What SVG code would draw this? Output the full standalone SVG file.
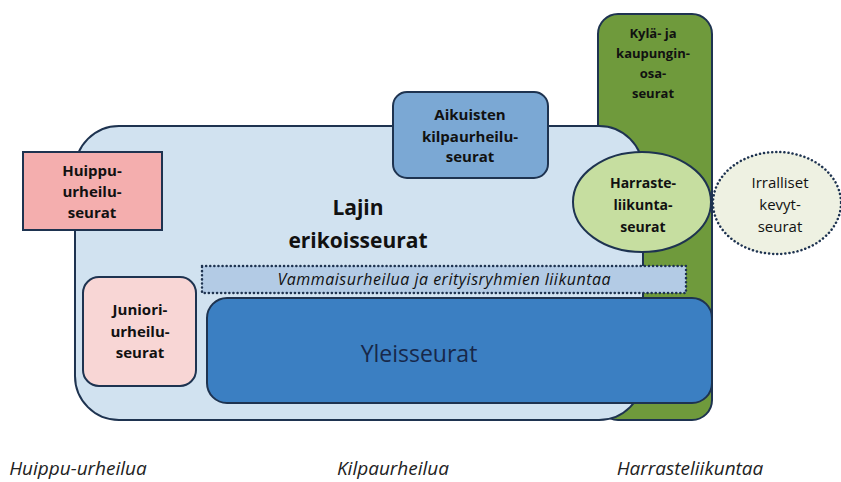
<svg xmlns="http://www.w3.org/2000/svg" width="841" height="482" viewBox="0 0 841 482">
<style>
.st{stroke:#1e3350;stroke-width:2}
.t{font-family:"Open Sans","Liberation Sans",sans-serif;font-size:15px;font-weight:bold;fill:#111;text-anchor:middle}
.n{font-family:"Open Sans","Liberation Sans",sans-serif;font-size:15px;fill:#111;text-anchor:middle}
.b{font-family:"Open Sans","Liberation Sans",sans-serif;font-size:19px;font-style:italic;fill:#222;text-anchor:middle}
.dot{stroke:#1e3350;stroke-width:2.5;stroke-dasharray:0.1 4;stroke-linecap:round}
</style>
<rect width="841" height="482" fill="#fff"/>
<g id="kyla">
<rect x="598" y="14" width="114" height="406" rx="20" fill="#6f9a3c" class="st"/>
<text class="t" x="653" y="38" style="font-size:13px">Kylä- ja</text>
<text class="t" x="653" y="58" style="font-size:13px">kaupungin-</text>
<text class="t" x="653" y="78" style="font-size:13px">osa-</text>
<text class="t" x="653" y="98" style="font-size:13px">seurat</text>
</g>
<g id="lajin">
<rect x="75" y="126" width="568" height="294" rx="44" fill="#d1e2f0" class="st"/>
<text class="t" x="358" y="215" style="font-size:21px">Lajin</text>
<text class="t" x="358" y="248" style="font-size:21px">erikoisseurat</text>
</g>
<g id="aikuisten">
<rect x="393" y="92" width="155" height="86" rx="14" fill="#7ba8d4" class="st"/>
<text class="t" x="470" y="120">Aikuisten</text>
<text class="t" x="470" y="142">kilpaurheilu-</text>
<text class="t" x="470" y="162">seurat</text>
</g>
<g id="huippu">
<rect x="23" y="152" width="139" height="78" fill="#f4aeae" class="st"/>
<text class="t" x="92" y="176">Huippu-</text>
<text class="t" x="92" y="197">urheilu-</text>
<text class="t" x="92" y="218">seurat</text>
</g>
<g id="harraste">
<ellipse cx="642" cy="202" rx="69" ry="50" fill="#c6dea0" class="st"/>
<text class="t" x="643" y="188" style="font-size:14px">Harraste-</text>
<text class="t" x="643" y="210" style="font-size:14px">liikunta-</text>
<text class="t" x="643" y="232" style="font-size:14px">seurat</text>
</g>
<g id="irralliset">
<ellipse cx="777" cy="203" rx="64" ry="51" fill="#eef1e2" class="dot"/>
<text class="n" x="780" y="188">Irralliset</text>
<text class="n" x="780" y="210">kevyt-</text>
<text class="n" x="780" y="232">seurat</text>
</g>
<g id="juniori">
<rect x="83" y="277" width="113" height="109" rx="16" fill="#f8d6d5" class="st"/>
<text class="t" x="140" y="315">Juniori-</text>
<text class="t" x="140" y="337">urheilu-</text>
<text class="t" x="140" y="358">seurat</text>
</g>
<g id="vammais">
<rect x="202" y="266" width="484" height="27" fill="#b3cbe5" class="dot"/>
<text class="n" x="444" y="285" style="font-style:italic;font-size:16px" textLength="333" lengthAdjust="spacing">Vammaisurheilua ja erityisryhmien liikuntaa</text>
</g>
<g id="yleis">
<rect x="207" y="298" width="505" height="105" rx="20" fill="#3b7fc2" class="st"/>
<text x="419" y="362" style="font-family:'Open Sans','Liberation Sans',sans-serif;font-size:23px;fill:#17284a;text-anchor:middle">Yleisseurat</text>
</g>
<g id="connectors"></g>
<g id="labels">
<text class="b" x="78" y="475">Huippu-urheilua</text>
<text class="b" x="393" y="475">Kilpaurheilua</text>
<text class="b" x="690" y="475">Harrasteliikuntaa</text>
</g>
</svg>
